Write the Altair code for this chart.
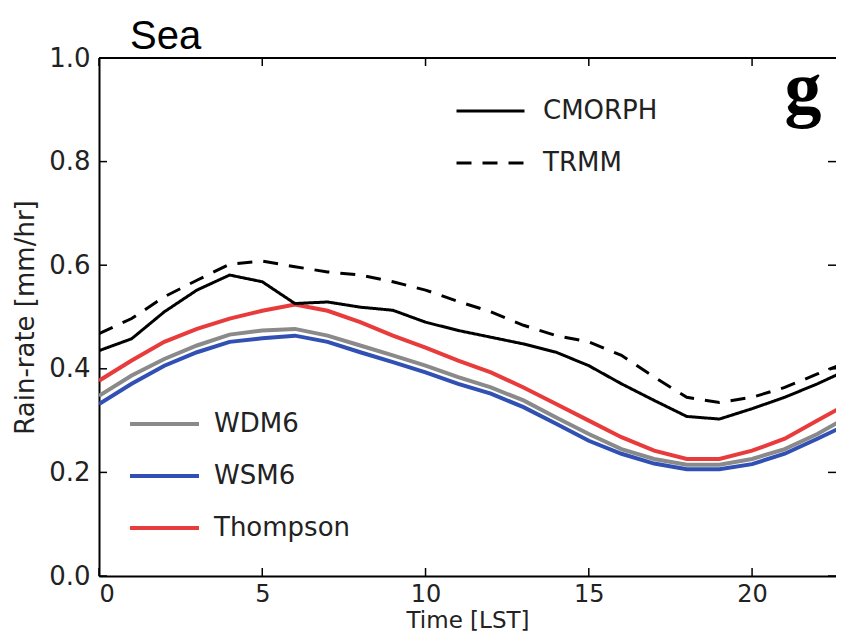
import altair as alt
import pandas as pd

hours = list(range(24))
cmorph = [0.435, 0.458, 0.510, 0.552, 0.581, 0.568, 0.526, 0.529, 0.519, 0.513, 0.490, 0.474,
          0.461, 0.448, 0.432, 0.406, 0.371, 0.339, 0.308, 0.303, 0.323, 0.345, 0.371, 0.400]
trmm = [0.468, 0.497, 0.539, 0.571, 0.602, 0.608, 0.597, 0.587, 0.581, 0.568, 0.552, 0.530,
        0.510, 0.484, 0.464, 0.452, 0.426, 0.384, 0.345, 0.335, 0.345, 0.364, 0.390, 0.415]
thompson = [0.377, 0.416, 0.452, 0.477, 0.497, 0.512, 0.524, 0.512, 0.490, 0.464, 0.441, 0.416,
            0.393, 0.364, 0.332, 0.300, 0.268, 0.242, 0.226, 0.226, 0.242, 0.265, 0.300, 0.335]
wdm6 = [0.348, 0.387, 0.419, 0.445, 0.466, 0.474, 0.477, 0.464, 0.445, 0.426, 0.406, 0.384,
        0.364, 0.339, 0.306, 0.274, 0.245, 0.226, 0.215, 0.215, 0.226, 0.245, 0.274, 0.310]
wsm6 = [0.332, 0.371, 0.406, 0.432, 0.452, 0.459, 0.464, 0.452, 0.432, 0.413, 0.393, 0.371,
        0.352, 0.326, 0.294, 0.261, 0.236, 0.217, 0.206, 0.206, 0.216, 0.236, 0.265, 0.295]

obs_names = ["CMORPH", "TRMM"]
model_names = ["WDM6", "WSM6", "Thompson"]
model_colors = ["#8a8a8a", "#3050b4", "#e83c3c"]
x_ticks = [0, 5, 10, 15, 20]
y_ticks = [0.0, 0.2, 0.4, 0.6, 0.8, 1.0]

obs_df = pd.DataFrame({
    "hour": hours * 2,
    "rate": cmorph + trmm,
    "obs": ["CMORPH"] * 24 + ["TRMM"] * 24,
})
mod_df = pd.DataFrame({
    "hour": hours * 3,
    "rate": wdm6 + wsm6 + thompson,
    "model": ["WDM6"] * 24 + ["WSM6"] * 24 + ["Thompson"] * 24,
})

W, H = 737, 518
FONT = "DejaVu Sans"

xscale = alt.Scale(domain=[0, 22.57], nice=False, zero=False)
yscale = alt.Scale(domain=[0, 1], nice=False)

x_axis = alt.Axis(values=x_ticks, format="d", title="Time [LST]", ticks=False, domain=True,
                  grid=False, labelPadding=6, labelFontSize=24, titlePadding=3,
                  titleFontSize=23)
y_axis = alt.Axis(values=y_ticks, format=".1f", title="Rain-rate [mm/hr]", ticks=False,
                  domain=True, grid=False, labelPadding=9, titlePadding=10)

models = alt.Chart(mod_df).mark_line(strokeWidth=4, clip=True).encode(
    x=alt.X("hour:Q", scale=xscale, axis=x_axis),
    y=alt.Y("rate:Q", scale=yscale, axis=y_axis),
    color=alt.Color(
        "model:N",
        scale=alt.Scale(domain=model_names, range=model_colors),
        legend=alt.Legend(title=None, orient="none", legendX=29, legendY=340,
                          symbolType="stroke", symbolSize=4761, symbolStrokeWidth=4,
                          clipHeight=52, rowPadding=0, padding=0, labelFontSize=26,
                          labelFont=FONT, labelOffset=13, labelColor="#222"),
    ),
)

obs = alt.Chart(obs_df).mark_line(strokeWidth=3, color="black", clip=True).encode(
    x=alt.X("hour:Q"),
    y=alt.Y("rate:Q"),
    strokeDash=alt.StrokeDash(
        "obs:N",
        scale=alt.Scale(domain=obs_names, range=[[1, 0], [15, 11]]),
        legend=alt.Legend(title=None, orient="none", legendX=356, legendY=27,
                          symbolType="stroke", symbolSize=4624, symbolStrokeWidth=3,
                          symbolStrokeColor="black",
                          clipHeight=52, rowPadding=0, padding=0, labelFontSize=26,
                          labelFont=FONT, labelOffset=17, labelColor="#222"),
    ),
)

xt_df = pd.DataFrame({"hour": x_ticks})
yt_df = pd.DataFrame({"rate": y_ticks})
TL = 8
rule_style = dict(color="black", strokeWidth=1.5)
bottom_ticks = alt.Chart(xt_df).mark_rule(**rule_style).encode(
    x=alt.X("hour:Q"), y=alt.value(H), y2=alt.value(H - TL))
top_ticks = alt.Chart(xt_df).mark_rule(**rule_style).encode(
    x=alt.X("hour:Q"), y=alt.value(0), y2=alt.value(TL))
left_ticks = alt.Chart(yt_df).mark_rule(**rule_style).encode(
    y=alt.Y("rate:Q"), x=alt.value(0), x2=alt.value(TL))
right_ticks = alt.Chart(yt_df).mark_rule(**rule_style).encode(
    y=alt.Y("rate:Q"), x=alt.value(W - TL), x2=alt.value(W))
top_spine = alt.Chart(pd.DataFrame({"s": [0]})).mark_rule(color="black", strokeWidth=2).encode(
    x=alt.value(0), x2=alt.value(W), y=alt.value(0))

panel = alt.Chart(pd.DataFrame({"label": ["g"]})).mark_text(
    font="Liberation Serif", fontWeight="bold", fontSize=74, align="center",
    baseline="alphabetic", color="black").encode(
    x=alt.value(704), y=alt.value(55), text="label:N")

chart = alt.layer(models, obs, bottom_ticks, top_ticks, left_ticks, right_ticks, top_spine,
                  panel).properties(
    width=W, height=H,
    title=alt.TitleParams(text="Sea", anchor="start", font="Liberation Sans", fontSize=40,
                          fontWeight="normal", color="black", dx=31, offset=-12,
                          frame="group"),
    padding={"left": 91, "top": 50, "right": 0, "bottom": 58},
    autosize="none",
).configure_view(
    strokeWidth=0
).configure_axis(
    labelFont=FONT, labelFontSize=26, labelColor="#222",
    titleFont=FONT, titleFontSize=26, titleFontWeight="normal", titleColor="#222",
    domainColor="black", domainWidth=2,
)

chart.save("out.html", embed_options={"renderer": "svg", "actions": False})
